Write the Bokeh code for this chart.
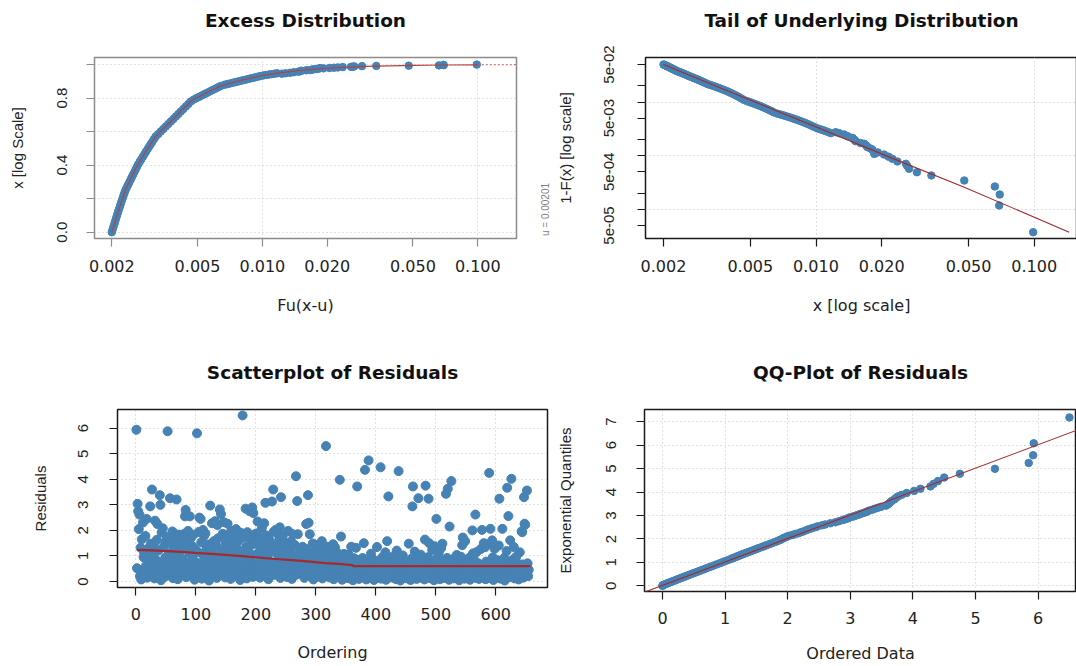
import math
from bokeh.plotting import figure
from bokeh.layouts import column, row
from bokeh.models import Range1d, FixedTicker, PrintfTickFormatter, Title
from bokeh.core.properties import value
from bokeh.embed import file_html
from bokeh.resources import INLINE

# ---------------- data ----------------
exc_x = [0.002000, 0.0020167, 0.0020335, 0.002051, 0.002068, 0.002085, 0.002102, 0.002120, 0.002138,
         0.002156, 0.002176, 0.002195, 0.002215, 0.002235, 0.002256, 0.002276, 0.002297, 0.002322,
         0.002353, 0.002385, 0.002417, 0.002449, 0.002482, 0.002515, 0.002549, 0.002583, 0.002618,
         0.002653, 0.002696, 0.002742, 0.002788, 0.002835, 0.002883, 0.002932, 0.002982, 0.003033,
         0.003085, 0.003138, 0.003197, 0.003284, 0.003374, 0.003466, 0.003561, 0.003659, 0.003759,
         0.003862, 0.003967, 0.004075, 0.004185, 0.004298, 0.004416, 0.004536, 0.004658, 0.004819,
         0.004957, 0.005100, 0.005248, 0.005400, 0.005556, 0.005717, 0.005883, 0.006056, 0.006232,
         0.006412, 0.006674, 0.006874, 0.007079, 0.007290, 0.007507, 0.007731, 0.007962, 0.008199,
         0.008444, 0.008695, 0.008954, 0.009223, 0.009497, 0.009781, 0.010118, 0.010416, 0.010724,
         0.011041, 0.011367, 0.011702, 0.01232, 0.0128, 0.01346, 0.0140, 0.0147, 0.0150, 0.0152,
         0.0160, 0.01663, 0.0170, 0.0172, 0.0178, 0.01815, 0.0185, 0.0192, 0.0205, 0.0215, 0.0224,
         0.0236, 0.0258, 0.0262, 0.0267, 0.0290, 0.0338, 0.0478, 0.0660, 0.0695, 0.0691, 0.0989]
excess_cdf = [0.000, 0.015, 0.030, 0.045, 0.060, 0.075, 0.090, 0.105, 0.120,
              0.135, 0.150, 0.165, 0.180, 0.195, 0.210, 0.225, 0.240, 0.255,
              0.270, 0.285, 0.300, 0.315, 0.330, 0.345, 0.360, 0.375, 0.390,
              0.405, 0.420, 0.435, 0.450, 0.465, 0.480, 0.495, 0.510, 0.525,
              0.540, 0.555, 0.570, 0.585, 0.600, 0.615, 0.630, 0.645, 0.660,
              0.675, 0.690, 0.705, 0.720, 0.735, 0.750, 0.765, 0.780, 0.792,
              0.800, 0.808, 0.816, 0.824, 0.832, 0.840, 0.848, 0.856, 0.864,
              0.872, 0.879, 0.883, 0.887, 0.891, 0.895, 0.899, 0.903, 0.907,
              0.911, 0.915, 0.919, 0.923, 0.927, 0.931, 0.935, 0.9375, 0.940,
              0.9425, 0.945, 0.9475, 0.9452, 0.9476, 0.9504, 0.954, 0.957, 0.9604, 0.9628,
              0.9656, 0.9666, 0.969, 0.9712, 0.9728, 0.9742, 0.9784, 0.977, 0.979, 0.9808, 0.9825,
              0.9844, 0.9859, 0.9872, 0.9886, 0.9902, 0.9914, 0.9931, 0.9947, 0.9962, 0.9976, 0.99925]
tail_prob = [0.0500, 0.04925, 0.0485, 0.04775, 0.0470, 0.04625, 0.0455, 0.04475, 0.0440,
             0.04325, 0.0425, 0.04175, 0.0410, 0.04025, 0.0395, 0.03875, 0.0380, 0.03725,
             0.0365, 0.03575, 0.0350, 0.03425, 0.0335, 0.03275, 0.0320, 0.03125, 0.0305,
             0.02975, 0.0290, 0.02825, 0.0275, 0.02675, 0.0260, 0.02525, 0.0245, 0.02375,
             0.0230, 0.02225, 0.0215, 0.02075, 0.0200, 0.01925, 0.0185, 0.01775, 0.0170,
             0.01625, 0.0155, 0.01475, 0.0140, 0.01325, 0.0125, 0.01175, 0.0110, 0.0104,
             0.0100, 0.0096, 0.0092, 0.0088, 0.0084, 0.0080, 0.0076, 0.0072, 0.0068,
             0.0064, 0.00605, 0.00585, 0.00565, 0.00545, 0.00525, 0.00505, 0.00485, 0.00465,
             0.00445, 0.00425, 0.00405, 0.00385, 0.00365, 0.00345, 0.00325, 0.003125, 0.0030,
             0.002875, 0.00275, 0.002625, 0.00274, 0.00262, 0.00248, 0.0023, 0.00215, 0.00198, 0.00186,
             0.00172, 0.00167, 0.00155, 0.00144, 0.00136, 0.00129, 0.00108, 0.00115, 0.00105, 0.00096, 0.000875,
             0.00078, 0.000706, 0.00064, 0.00057, 0.000492, 0.000428, 0.000345, 0.000267, 0.000189, 0.000118, 0.0000375]

gpd_cdf_x = [0.002, 0.00208, 0.00215, 0.00231, 0.0025, 0.00266, 0.0029, 0.00318, 0.0035, 0.0038,
             0.0042, 0.0047, 0.0055, 0.00648, 0.008, 0.01, 0.0125, 0.0152, 0.02, 0.03, 0.05, 0.07, 0.1, 0.15]
gpd_cdf_y = [0.0, 0.07, 0.13, 0.249, 0.345, 0.408, 0.487, 0.567, 0.622, 0.666,
             0.725, 0.785, 0.831, 0.875, 0.906, 0.934, 0.953, 0.966, 0.978, 0.989, 0.995, 0.997, 0.998, 0.999]
tail_fit_x = [0.002, 0.004, 0.0099, 0.022, 0.0478, 0.1446]
tail_fit_y = [0.05, 0.0157, 0.0035, 0.00092, 0.000259, 0.0000375]

residuals = [
    5.94, 0.52, 3.04, 2.75, 2.05, 2.62, 0.21, 1.32, 0.08, 1.65, 0.44, 2.31, 0.95, 1.12, 0.36, 1.78, 0.62, 2.45, 0.15, 1.28, 0.71, 1.05, 0.27, 2.94, 1.48,
    0.33, 3.6, 1.15, 0.58, 1.42, 0.12, 2.38, 0.86, 0.47, 1.63, 2.25, 0.29, 1.21, 0.74, 3.38, 3.0, 0.05, 1.92, 0.41, 2.08, 0.66, 1.37, 0.18, 0.93, 1.56,
    0.48, 1.74, 5.88, 0.24, 1.09, 0.69, 3.26, 1.52, 0.37, 0.81, 1.96, 0.13, 1.27, 0.55, 1.67, 0.95, 0.31, 3.21, 1.43, 0.09, 1.84, 0.62, 1.18, 0.42, 1.58,
    0.26, 1.62, 0.88, 1.34, 0.51, 1.87, 2.55, 2.8, 0.17, 1.46, 0.73, 1.98, 0.39, 1.12, 2.55, 0.58, 1.71, 0.22, 1.39, 0.94, 1.83, 0.46, 0.07, 1.25, 0.64,
    0.35, 5.8, 1.16, 0.72, 1.94, 2.5, 0.28, 2.45, 1.53, 0.11, 1.07, 2.02, 0.49, 1.79, 0.83, 1.88, 0.19, 1.3, 0.6, 0.96, 1.45, 0.04, 0.77, 2.97, 1.22,
    0.41, 2.28, 1.13, 0.67, 1.58, 0.23, 2.36, 0.9, 1.41, 0.14, 2.21, 1.69, 0.53, 0.98, 2.82, 0.32, 2.64, 1.24, 0.76, 1.87, 0.45, 2.32, 1.05, 0.16, 1.51,
    0.58, 1.76, 2.26, 0.37, 1.33, 0.81, 1.62, 0.1, 1.97, 0.69, 1.18, 0.26, 1.84, 1.45, 0.52, 0.95, 2.05, 0.2, 1.27, 0.74, 1.58, 0.43, 1.09, 0.06, 1.91,
    0.34, 1.15, 6.5, 0.62, 1.72, 0.27, 0.88, 2.85, 1.36, 0.12, 1.93, 0.56, 1.21, 0.79, 2.75, 1.66, 0.39, 1.02, 2.9, 0.18, 2.68, 1.47, 0.71, 1.85, 0.48,
    1.88, 0.31, 2.35, 1.12, 0.66, 1.74, 0.15, 1.39, 0.92, 2.08, 0.44, 1.59, 0.7, 2.28, 1.27, 3.08, 0.22, 1.8, 0.53, 1.04, 0.09, 1.66, 0.81, 1.35, 0.37,
    1.18, 3.13, 0.58, 3.6, 1.95, 0.26, 1.44, 2.02, 0.75, 1.1, 1.88, 0.4, 0.97, 1.63, 2.12, 0.14, 3.3, 1.28, 0.63, 1.79, 0.33, 1.06, 0.86, 1.52, 0.2,
    0.51, 1.31, 0.17, 1.98, 0.87, 0.42, 1.21, 0.68, 1.57, 0.1, 1.02, 1.85, 0.36, 0.79, 1.43, 0.25, 4.12, 0.6, 3.15, 1.85, 0.94, 0.31, 1.16, 0.72, 0.47,
    0.83, 0.29, 1.36, 0.55, 1.04, 0.14, 0.7, 1.28, 2.25, 0.43, 0.91, 3.38, 2.3, 0.22, 1.85, 0.61, 1.13, 0.38, 0.76, 1.49, 0.08, 0.97, 0.52, 1.21, 0.33,
    0.66, 1.42, 0.19, 0.84, 1.07, 0.46, 1.31, 0.27, 0.72, 1.58, 0.12, 0.93, 0.55, 1.19, 0.35, 0.78, 5.3, 0.23, 1.36, 0.61, 0.41, 1.02, 0.16, 0.88, 0.5,
    1.28, 0.37, 0.71, 1.46, 0.09, 0.58, 1.34, 0.24, 0.86, 0.45, 1.12, 0.63, 0.18, 0.95, 3.98, 0.31, 1.76, 0.52, 0.07, 0.79, 0.4, 1.08, 0.27, 0.66, 0.14,
    0.48, 0.22, 0.83, 0.35, 1.05, 0.12, 0.61, 0.29, 1.36, 0.44, 0.73, 0.05, 0.53, 0.91, 0.19, 0.38, 1.32, 0.67, 3.72, 0.26, 0.58, 0.1, 0.84, 0.42, 0.31,
    0.63, 0.17, 0.92, 0.36, 1.5, 0.24, 4.37, 0.55, 0.08, 0.77, 0.41, 0.3, 4.74, 0.68, 0.13, 0.47, 1.09, 0.21, 0.59, 0.34, 0.86, 0.06, 0.52, 0.28, 0.71,
    0.39, 1.35, 0.15, 0.64, 0.27, 0.81, 0.46, 4.47, 0.11, 0.57, 0.95, 0.33, 0.2, 0.72, 0.43, 1.14, 0.07, 0.61, 1.58, 0.29, 3.33, 0.5, 0.84, 0.16, 0.37,
    0.69, 0.25, 0.45, 0.98, 0.14, 0.56, 0.32, 0.76, 0.09, 1.21, 0.49, 0.19, 4.32, 0.63, 0.38, 0.04, 0.87, 0.28, 0.53, 1.02, 0.17, 0.44, 0.71, 0.23, 0.6,
    0.35, 0.12, 0.78, 0.48, 1.48, 0.26, 0.67, 0.06, 0.41, 0.9, 2.94, 3.72, 0.19, 0.55, 1.17, 0.31, 0.73, 0.1, 0.46, 0.84, 3.26, 0.22, 0.61, 0.38, 1.05,
    0.15, 0.52, 0.29, 0.8, 0.43, 0.08, 1.64, 3.75, 0.66, 0.34, 0.21, 0.95, 3.24, 1.5, 0.57, 0.13, 0.4, 0.74, 1.23, 0.27, 0.62, 0.05, 1.38, 0.48, 0.86,
    2.45, 0.33, 0.18, 0.7, 1.12, 0.45, 0.09, 0.58, 1.31, 0.24, 1.48, 0.82, 0.37, 0.63, 0.14, 0.5, 3.43, 0.28, 0.92, 3.63, 0.41, 0.07, 2.15, 0.67, 0.2,
    3.93, 0.55, 0.31, 0.88, 0.12, 0.46, 0.73, 0.26, 0.6, 1.04, 0.19, 0.39, 0.81, 0.05, 0.52, 0.34, 0.97, 0.22, 1.42, 1.72, 0.64, 0.3, 0.11, 1.58, 0.47,
    0.75, 0.28, 0.57, 0.16, 0.41, 0.93, 0.07, 0.35, 0.62, 0.21, 2.0, 1.1, 0.49, 0.84, 0.3, 2.62, 0.14, 1.15, 0.56, 0.38, 0.71, 0.1, 0.44, 0.26, 1.27,
    0.33, 2.02, 0.62, 0.18, 1.5, 0.47, 1.34, 0.09, 0.78, 0.29, 1.45, 0.55, 0.13, 4.25, 0.39, 2.06, 0.68, 0.22, 1.61, 0.94, 0.06, 0.51, 1.28, 0.36, 0.74,
    0.42, 0.15, 0.83, 0.27, 1.41, 3.24, 0.58, 0.11, 0.7, 0.35, 2.06, 0.49, 0.2, 0.92, 0.04, 0.63, 0.31, 1.19, 3.67, 0.45, 2.56, 0.17, 0.76, 1.61, 0.38,
    4.02, 0.53, 0.24, 0.86, 1.35, 0.12, 0.61, 0.4, 0.97, 0.19, 0.72, 0.3, 0.08, 0.55, 1.14, 0.43, 0.26, 1.96, 1.93, 0.67, 0.15, 3.3, 2.26, 2.22, 0.5,
    0.34, 3.56, 0.71, 0.21, 0.46,
]
ordering = list(range(1, len(residuals) + 1))

smooth_ord = [2, 27, 52, 82, 99, 132, 177, 227, 277, 316, 338, 361, 363, 658]
smooth_res = [1.24, 1.22, 1.19, 1.15, 1.12, 1.07, 0.99, 0.89, 0.81, 0.72, 0.69, 0.64, 0.60, 0.60]

qq_data = [6.50, 5.93, 5.92, 5.85, 5.31, 4.75, 4.50, 4.40, 4.33, 4.28, 4.12, 4.02, 3.90, 3.82, 3.76,
           3.73, 3.70, 3.66, 3.64, 3.62, 3.60, 3.57, 3.49, 3.44, 3.39, 3.30, 3.20, 3.09, 2.99, 2.88,
           2.76, 2.60, 2.48, 2.40, 2.32, 2.25, 2.17, 2.08, 1.99, 1.94, 1.90, 1.86, 1.81, 1.74, 1.66,
           1.60, 1.53, 1.47, 1.42, 1.37, 1.32, 1.27, 1.23, 1.18, 1.13, 1.085, 1.04, 0.995, 0.955, 0.915,
           0.868, 0.823, 0.782, 0.74, 0.70, 0.665, 0.628, 0.594, 0.56, 0.528, 0.497, 0.466, 0.437, 0.408,
           0.38, 0.353, 0.328, 0.302, 0.278, 0.254, 0.231, 0.208, 0.186, 0.164, 0.143, 0.122, 0.102,
           0.082, 0.063, 0.044, 0.026, 0.01, 0.0, 0.0,
           3.35, 3.27, 3.24, 3.16, 3.13, 3.06, 3.03, 2.97, 2.94, 2.91, 2.82, 2.68, 2.55, 2.45, 2.36,
           2.29, 2.21, 2.12, 2.04, 1.98, 1.93, 1.89, 1.84, 1.77, 1.70, 1.63, 1.565, 1.505, 1.45, 1.395,
           1.345, 1.295, 1.25, 1.20, 1.155, 1.108]
qq_quant = [7.18, 6.08, 5.57, 5.24, 4.99, 4.78, 4.62, 4.47, 4.35, 4.24, 4.14, 4.05, 3.96, 3.88, 3.81,
            3.75, 3.68, 3.62, 3.57, 3.52, 3.47, 3.42, 3.37, 3.33, 3.29, 3.21, 3.10, 3.00, 2.92, 2.81,
            2.71, 2.62, 2.54, 2.47, 2.40, 2.32, 2.24, 2.17, 2.11, 2.05, 1.99, 1.94, 1.88, 1.81, 1.73,
            1.67, 1.60, 1.54, 1.49, 1.44, 1.39, 1.34, 1.29, 1.24, 1.19, 1.14, 1.093, 1.049, 1.006, 0.965,
            0.918, 0.873, 0.830, 0.789, 0.750, 0.712, 0.675, 0.640, 0.606, 0.572, 0.541, 0.510, 0.480, 0.450,
            0.422, 0.394, 0.368, 0.341, 0.316, 0.291, 0.267, 0.243, 0.220, 0.198, 0.176, 0.154, 0.133,
            0.112, 0.092, 0.072, 0.053, 0.033, 0.015, 0.002,
            3.246, 3.170, 3.135, 3.067, 3.035, 2.973, 2.944, 2.887, 2.860, 2.834, 2.759, 2.667, 2.583, 2.505, 2.433,
            2.365, 2.287, 2.215, 2.147, 2.084, 2.025, 1.968, 1.915, 1.845, 1.771, 1.701, 1.636, 1.576, 1.518, 1.464,
            1.413, 1.364, 1.317, 1.267, 1.214, 1.164]
qq_line_x = [-1.0, 8.0]
qq_line_y = [-0.98, 8.02]

log_x_ticks = [0.002, 0.005, 0.01, 0.02, 0.05, 0.1]
log_grid = [0.001, 0.01, 0.1, 1.0]
cdf_major = [0.0, 0.4, 0.8]
cdf_minor = [0.2, 0.6, 1.0]
cdf_grid = [0.0, 0.2, 0.4, 0.6, 0.8, 1.0]
tail_major = [0.05, 0.005, 0.0005, 0.00005]
tail_minor = [0.02, 0.01, 0.002, 0.001, 0.0002, 0.0001]
tail_labels = {0.05: "5e-02", 0.005: "5e-03", 0.0005: "5e-04", 0.00005: "5e-05"}
tail_grid = [0.01, 0.001, 0.0001]
ord_ticks = [0, 100, 200, 300, 400, 500, 600]
res_ticks = [0, 1, 2, 3, 4, 5, 6]
qq_x_ticks = [0, 1, 2, 3, 4, 5, 6]
qq_y_ticks = [0, 1, 2, 3, 4, 5, 6, 7]
threshold_note = "u = 0.00201"

# ---------------- styling ----------------
FONT_H = "DejaVu Sans"
FONT_V = "Liberation Sans"
BLUE = "#4682B4"
RED = "#A52A2A"
GRID = "#c4c4c4"


def make_fig(fw, fh, bl, bt, br, bb, xr, yr, title, xlab, ylab, xt="linear", yt="linear",
             frame_col="#1a1a1a", tick_col="#1a1a1a",
             xls=13, xas=21, yls=22, yas=28):
    p = figure(frame_width=fw, frame_height=fh, min_border_left=bl, min_border_top=bt,
               min_border_right=br, min_border_bottom=bb, x_range=xr, y_range=yr,
               x_axis_type=xt, y_axis_type=yt, output_backend="svg", toolbar_location=None,
               title=None)
    # spacer (closest to the frame) then the real title
    p.add_layout(Title(text=" ", text_font_size="12px", standoff=6), "above")
    p.add_layout(Title(text=title, align="center", text_font=FONT_H, text_font_style="bold",
                       text_font_size="18.5px", text_color="#111111", standoff=10), "above")
    p.outline_line_color = frame_col
    p.outline_line_width = 1.5
    p.background_fill_color = "white"
    p.border_fill_color = "white"
    for ax in (p.xaxis[0], p.yaxis[0]):
        ax.axis_line_color = None
        ax.major_tick_in = 0
        ax.major_tick_out = 8
        ax.minor_tick_in = 0
        ax.minor_tick_out = 8
        ax.major_tick_line_color = tick_col
        ax.minor_tick_line_color = tick_col
        ax.major_tick_line_width = 1.2
        ax.minor_tick_line_width = 1.2
        ax.axis_label_text_font_style = "normal"
        ax.axis_label_text_color = "#222222"
        ax.major_label_text_color = "#222222"
    xa, ya = p.xaxis[0], p.yaxis[0]
    xa.axis_label = xlab
    xa.axis_label_text_font = FONT_H
    xa.axis_label_text_font_size = "16px"
    xa.major_label_text_font = FONT_H
    xa.major_label_text_font_size = "16px"
    xa.major_label_standoff = xls
    xa.axis_label_standoff = xas
    ya.axis_label = ylab
    ya.axis_label_text_font = FONT_V
    ya.axis_label_text_font_size = "15px"
    ya.major_label_text_font = FONT_V
    ya.major_label_text_font_size = "15px"
    ya.major_label_orientation = "vertical"
    ya.major_label_standoff = yls
    ya.axis_label_standoff = yas
    for g in (p.xgrid[0], p.ygrid[0]):
        g.grid_line_color = GRID
        g.grid_line_dash = "1 3"
        g.grid_line_width = 1
    return p


TOP_H = 341
BOT_H = 325

# ---- Panel 1: Excess Distribution ----
p1 = make_fig(422, 181, 94, 57, 21, TOP_H - 57 - 181,
              Range1d(0.0016624, 0.15125), Range1d(-0.0376, 1.0417),
              "Excess Distribution", "Fu(x-u)", "x [log Scale]", xt="log",
              frame_col="#8c8c8c", tick_col="#8c8c8c", yls=19, yas=29)
p1.xaxis[0].ticker = FixedTicker(ticks=log_x_ticks, minor_ticks=[])
p1.xaxis[0].formatter = PrintfTickFormatter(format="%.3f")
p1.yaxis[0].ticker = FixedTicker(ticks=cdf_major, minor_ticks=cdf_minor)
p1.yaxis[0].formatter = PrintfTickFormatter(format="%.1f")
p1.xgrid[0].ticker = FixedTicker(ticks=log_grid)
p1.ygrid[0].ticker = FixedTicker(ticks=cdf_grid)
p1.scatter(exc_x, excess_cdf, size=7.5, color=BLUE, line_color=BLUE)
p1.line(gpd_cdf_x[:-1], gpd_cdf_y[:-1], line_color="#b5413e", line_width=1.1)
p1.line(gpd_cdf_x[-2:], gpd_cdf_y[-2:], line_color="#c86060", line_width=1.1, line_dash="2 2")

# ---- narrow strip holding the threshold note (right margin of panel 1) ----
pu = figure(frame_width=16, frame_height=TOP_H, min_border_left=0, min_border_right=0,
            min_border_top=0, min_border_bottom=0, x_range=Range1d(0, 1), y_range=Range1d(0, TOP_H),
            output_backend="svg", toolbar_location=None, title=None)
pu.axis.visible = False
pu.grid.visible = False
pu.outline_line_color = None
pu.text(x=[0.5], y=[189], text=[threshold_note], angle=math.pi / 2,
        text_align="center", text_baseline="middle", text_font=value(FONT_V),
        text_font_size="10px", text_color="#808080")

# ---- Panel 2: Tail of Underlying Distribution ----
p2 = make_fig(432, 181, 91, 57, 0, TOP_H - 57 - 181,
              Range1d(0.0016541, 0.1579), Range1d(0.00002864, 0.06753),
              "Tail of Underlying Distribution", "x [log scale]", "1-F(x) [log scale]",
              xt="log", yt="log", yls=23, yas=28)
p2.xaxis[0].ticker = FixedTicker(ticks=log_x_ticks, minor_ticks=[])
p2.xaxis[0].formatter = PrintfTickFormatter(format="%.3f")
p2.yaxis[0].ticker = FixedTicker(ticks=tail_major, minor_ticks=tail_minor)
p2.yaxis[0].major_label_overrides = tail_labels
p2.xgrid[0].ticker = FixedTicker(ticks=log_grid)
p2.ygrid[0].ticker = FixedTicker(ticks=tail_grid)
p2.scatter(exc_x, tail_prob, size=7.5, color=BLUE, line_color=BLUE)
p2.line(tail_fit_x, tail_fit_y, line_color=RED, line_width=1.1)

# ---- Panel 3: Scatterplot of Residuals ----
p3 = make_fig(430, 178, 117, 68, 6, BOT_H - 68 - 178,
              Range1d(-30.5, 686.2), Range1d(-0.235, 6.732),
              "Scatterplot of Residuals", "Ordering", "Residuals",
              xls=12, xas=20, yls=21, yas=27)
p3.xaxis[0].ticker = FixedTicker(ticks=ord_ticks, minor_ticks=[])
p3.yaxis[0].ticker = FixedTicker(ticks=res_ticks, minor_ticks=[])
p3.xgrid[0].ticker = FixedTicker(ticks=ord_ticks)
p3.ygrid[0].ticker = FixedTicker(ticks=res_ticks)
p3.scatter(ordering, residuals, size=9, color=BLUE, line_color=BLUE)
p3.line(smooth_ord, smooth_res, line_color=RED, line_width=2.2)

# ---- Panel 4: QQ-Plot of Residuals ----
p4 = make_fig(432, 182, 91, 65, 0, BOT_H - 65 - 182,
              Range1d(-0.2875, 6.613), Range1d(-0.24, 7.52),
              "QQ-Plot of Residuals", "Ordered Data", "Exponential Quantiles",
              xls=12, xas=17, yls=20, yas=30)
p4.xaxis[0].ticker = FixedTicker(ticks=qq_x_ticks, minor_ticks=[])
p4.yaxis[0].ticker = FixedTicker(ticks=qq_y_ticks, minor_ticks=[])
p4.xgrid[0].ticker = FixedTicker(ticks=qq_x_ticks)
p4.ygrid[0].ticker = FixedTicker(ticks=qq_y_ticks)
p4.scatter(qq_data, qq_quant, size=7.5, color=BLUE, line_color=BLUE)
p4.line(qq_line_x, qq_line_y, line_color=RED, line_width=1.1)

layout = column(row(p1, pu, p2), row(p3, p4))

with open("out.html", "w") as f:
    f.write(file_html(layout, INLINE))
